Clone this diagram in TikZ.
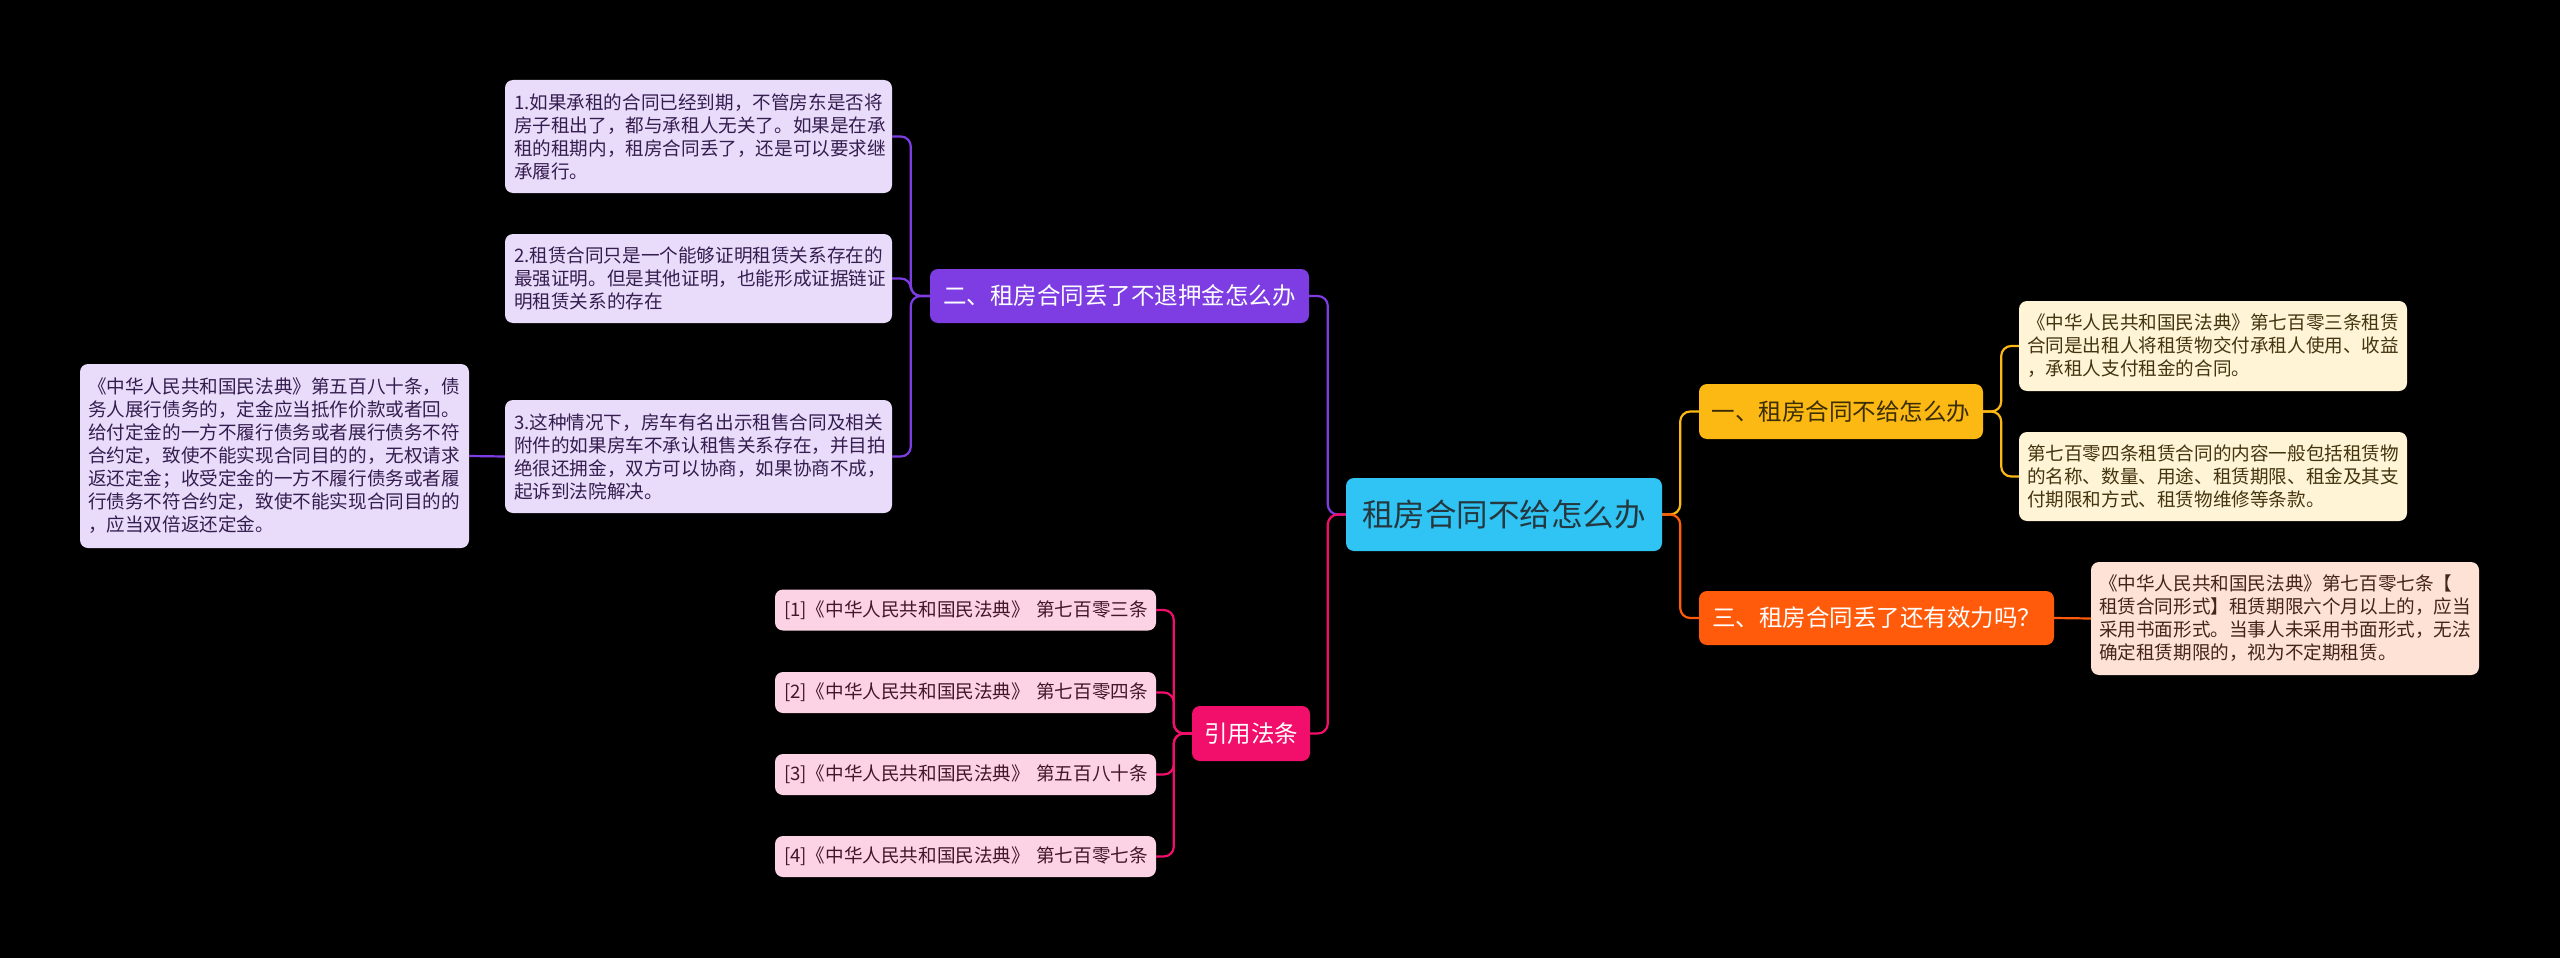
\documentclass[tikz,border=0pt]{standalone}
\usepackage{fontspec}
\setmainfont{Noto Sans CJK SC}
\definecolor{cRoot}{HTML}{30C4F5}
\definecolor{tRoot}{HTML}{253840}
\definecolor{cY}{HTML}{FCB813}
\definecolor{tY}{HTML}{3B2E05}
\definecolor{lY}{HTML}{FFF4D6}
\definecolor{ltY}{HTML}{433510}
\definecolor{cO}{HTML}{FF5B0B}
\definecolor{lO}{HTML}{FFE2D6}
\definecolor{ltO}{HTML}{432618}
\definecolor{cP}{HTML}{7D3DE3}
\definecolor{lP}{HTML}{E9DCFA}
\definecolor{ltP}{HTML}{351D4F}
\definecolor{cK}{HTML}{F20E6B}
\definecolor{lK}{HTML}{FCD3E5}
\definecolor{ltK}{HTML}{43172A}
\begin{document}
\begin{tikzpicture}[x=1pt,y=-1pt,
  box/.style={rounded corners=8pt, inner sep=0pt, anchor=center},
  leaf/.style={box, font=\fontsize{18.6}{23}\selectfont, align=left},
  branch/.style={box, font=\fontsize{23.5}{28}\selectfont, align=center},
  conn/.style={line width=2.2pt, rounded corners=10pt}]
\fill[black] (0,0) rectangle (2560,958);
\useasboundingbox (0,0) rectangle (2560,958);

% root
\node[box, fill=cRoot, text=tRoot, font=\fontsize{31.5}{36}\selectfont,
  minimum width=316pt, minimum height=73pt] (root) at (1504,514.5) {租房合同不给怎么办};

% branches
\node[branch, fill=cY, text=tY, minimum width=284pt, minimum height=55pt] (yb) at (1841,411.5) {一、租房合同不给怎么办};
\node[branch, fill=cO, text=white, minimum width=355pt, minimum height=54pt] (ob) at (1876.5,618) {三、租房合同丢了还有效力吗？};
\node[branch, fill=cP, text=white, minimum width=379pt, minimum height=54pt] (pb) at (1119.5,296) {二、租房合同丢了不退押金怎么办};
\node[branch, fill=cK, text=white, minimum width=118pt, minimum height=55pt] (kb) at (1251,733.5) {引用法条};

% yellow leaves
\node[leaf, fill=lY, text=ltY, minimum width=388pt, minimum height=90pt, text width=372pt] (yl1) at (2213,346)
 {《中华人民共和国民法典》第七百零三条租赁\\合同是出租人将租赁物交付承租人使用、收益\\，承租人支付租金的合同。};
\node[leaf, fill=lY, text=ltY, minimum width=388pt, minimum height=89pt, text width=372pt] (yl2) at (2213,476.5)
 {第七百零四条租赁合同的内容一般包括租赁物\\的名称、数量、用途、租赁期限、租金及其支\\付期限和方式、租赁物维修等条款。};

% orange leaf
\node[leaf, fill=lO, text=ltO, minimum width=388pt, minimum height=113pt, text width=372pt] (ol) at (2285,618.5)
 {《中华人民共和国民法典》第七百零七条【\\租赁合同形式】租赁期限六个月以上的，应当\\采用书面形式。当事人未采用书面形式，无法\\确定租赁期限的，视为不定期租赁。};

% purple leaves
\node[leaf, fill=lP, text=ltP, minimum width=387pt, minimum height=113pt, text width=369pt] (pl1) at (698.5,136.5)
 {1.如果承租的合同已经到期，不管房东是否将\\房子租出了，都与承租人无关了。如果是在承\\租的租期内，租房合同丢了，还是可以要求继\\承履行。};
\node[leaf, fill=lP, text=ltP, minimum width=387pt, minimum height=89pt, text width=369pt] (pl2) at (698.5,278.5)
 {2.租赁合同只是一个能够证明租赁关系存在的\\最强证明。但是其他证明，也能形成证据链证\\明租赁关系的存在};
\node[leaf, fill=lP, text=ltP, minimum width=387pt, minimum height=113pt, text width=369pt] (pl3) at (698.5,456.5)
 {3.这种情况下，房车有名出示租售合同及相关\\附件的如果房车不承认租售关系存在，并目拍\\绝很还拥金，双方可以协商，如果协商不成，\\起诉到法院解决。};
\node[leaf, fill=lP, text=ltP, minimum width=389pt, minimum height=184pt, text width=373pt] (pl4) at (274.5,456)
 {《中华人民共和国民法典》第五百八十条，债\\务人展行债务的，定金应当抵作价款或者回。\\给付定金的一方不履行债务或者展行债务不符\\合约定，致使不能实现合同目的的，无权请求\\返还定金；收受定金的一方不履行债务或者履\\行债务不符合约定，致使不能实现合同目的的\\，应当双倍返还定金。};

% pink leaves
\node[leaf, fill=lK, text=ltK, minimum width=381pt, minimum height=41pt, text width=363pt] (kl1) at (965.5,610) {\mbox{[1]《中华人民共和国民法典》 第七百零三条}};
\node[leaf, fill=lK, text=ltK, minimum width=381pt, minimum height=41pt, text width=363pt] (kl2) at (965.5,692.5) {\mbox{[2]《中华人民共和国民法典》 第七百零四条}};
\node[leaf, fill=lK, text=ltK, minimum width=381pt, minimum height=41pt, text width=363pt] (kl3) at (965.5,774.5) {\mbox{[3]《中华人民共和国民法典》 第五百八十条}};
\node[leaf, fill=lK, text=ltK, minimum width=381pt, minimum height=41pt, text width=363pt] (kl4) at (965.5,856.5) {\mbox{[4]《中华人民共和国民法典》 第七百零七条}};

% connectors from root
\draw[conn, cP] (root.west) -- ++(-18,0) |- (pb.east);
\draw[conn, cK] (root.west) -- ++(-18,0) |- (kb.east);
\draw[conn, cY] (root.east) -- ++(18,0) |- (yb.west);
\draw[conn, cO] (root.east) -- ++(18,0) |- (ob.west);

% yellow
\draw[conn, cY] (yb.east) -- ++(18,0) |- (yl1.west);
\draw[conn, cY] (yb.east) -- ++(18,0) |- (yl2.west);
% orange
\draw[conn, cO] (ob.east) -- (ol.west);
% purple
\draw[conn, cP] (pb.west) -- ++(-19,0) |- (pl1.east);
\draw[conn, cP] (pb.west) -- ++(-19,0) |- (pl2.east);
\draw[conn, cP] (pb.west) -- ++(-19,0) |- (pl3.east);
\draw[conn, cP] (pl3.west) -- (pl4.east);
% pink
\draw[conn, cK] (kb.west) -- ++(-18,0) |- (kl1.east);
\draw[conn, cK] (kb.west) -- ++(-18,0) |- (kl2.east);
\draw[conn, cK] (kb.west) -- ++(-18,0) |- (kl3.east);
\draw[conn, cK] (kb.west) -- ++(-18,0) |- (kl4.east);
\end{tikzpicture}
\end{document}
